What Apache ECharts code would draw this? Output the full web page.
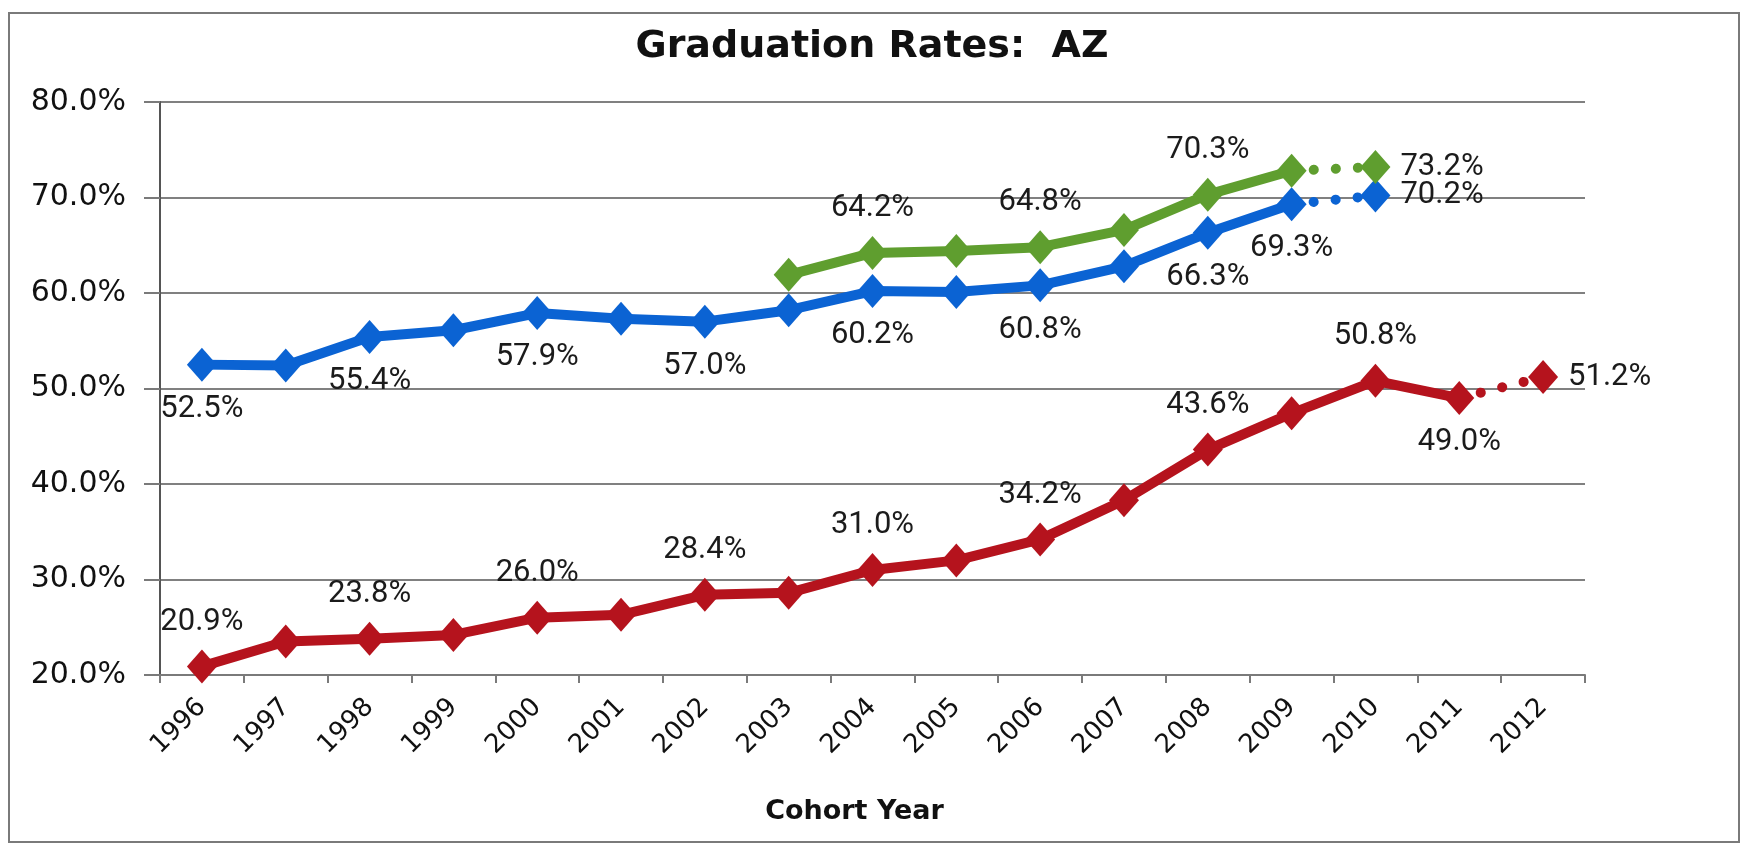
<!DOCTYPE html>
<html>
<head>
<meta charset="utf-8">
<title>Graduation Rates: AZ</title>
<script src="https://cdn.jsdelivr.net/npm/echarts@6/dist/echarts.min.js"></script>
<style>
  html,
  body {
    margin: 0;
    padding: 0;
    background: #ffffff;
  }
  #chart {
    width: 1744px;
    height: 845px;
  }
</style>
</head>
<body>
<div id="chart"></div>
<script>
const years = ["1996", "1997", "1998", "1999", "2000", "2001", "2002", "2003", "2004",
  "2005", "2006", "2007", "2008", "2009", "2010", "2011", "2012"];

// values in percent, "-" where the line has no point
const blueRates = [52.5, 52.4, 55.4, 56.1, 57.9, 57.3, 57.0, 58.2, 60.2,
  60.1, 60.8, 62.8, 66.3, 69.3, 70.2, "-", "-"];
const greenRates = ["-", "-", "-", "-", "-", "-", "-", 61.9, 64.2,
  64.4, 64.8, 66.6, 70.3, 72.8, 73.2, "-", "-"];
const redRates = [20.9, 23.5, 23.8, 24.2, 26.0, 26.3, 28.4, 28.6, 31.0,
  32.0, 34.2, 38.3, 43.6, 47.4, 50.8, 49.0, 51.2];

// last point of the solid line, the next one is joined with dots
const blueLastSolid = 13;
const greenLastSolid = 13;
const redLastSolid = 15;

// which points carry a label, and where
const blueLabels = { 0: "bottom", 2: "bottom", 4: "bottom", 6: "bottom", 8: "bottom",
  10: "bottom", 12: "bottom", 13: "bottom", 14: "right" };
const greenLabels = { 8: "top", 10: "top", 12: "top", 14: "right" };
const redLabels = { 0: "top", 2: "top", 4: "top", 6: "top", 8: "top", 10: "top",
  12: "top", 14: "top", 15: "bottom", 16: "right" };

const labelFont = {
  fontFamily: "Roboto",
  fontSize: 31,
  color: "#1b1b1b",
};

function pointLabel(pos) {
  if (!pos) {
    return { show: false };
  }
  return {
    show: true,
    position: pos,
    distance: pos === "right" ? 10 : 12,
    formatter: function (p) {
      return Number(p.value).toFixed(1) + "%";
    },
    ...labelFont,
  };
}

function buildSeries(name, values, color, lastSolid, labels) {
  const solidData = values.map(function (v, i) {
    if (i > lastSolid || v === "-") {
      return "-";
    }
    return { value: v, label: pointLabel(labels[i]) };
  });
  const dottedData = values.map(function (v, i) {
    if (i === lastSolid) {
      return { value: v, symbol: "none" };
    }
    if (i === lastSolid + 1) {
      return { value: v, label: pointLabel(labels[i]) };
    }
    return "-";
  });
  const common = {
    type: "line",
    symbol: "diamond",
    symbolSize: [30, 34],
    showAllSymbol: true,
    itemStyle: { color: color },
    emphasis: { disabled: true },
    animation: false,
  };
  return [
    {
      ...common,
      name: name,
      data: solidData,
      lineStyle: { color: color, width: 10 },
    },
    {
      ...common,
      name: name + " (dotted)",
      data: dottedData,
      lineStyle: { color: color, width: 10, type: [0.1, 22], cap: "round" },
    },
  ];
}

var chart = echarts.init(document.getElementById("chart"));

const option = {
  backgroundColor: "#ffffff",
  animation: false,
  title: {
    text: "Graduation Rates:  AZ",
    left: "center",
    top: 23,
    textStyle: {
      fontFamily: "DejaVu Sans",
      fontWeight: "bold",
      fontSize: 38,
      color: "#111111",
    },
  },
  graphic: [
    {
      type: "rect",
      shape: { x: 9, y: 13, width: 1730, height: 829 },
      style: { fill: "none", stroke: "#7a7a7a", lineWidth: 2 },
      silent: true,
    },
  ],
  grid: {
    left: 160,
    right: 159,
    top: 102,
    bottom: 170,
  },
  xAxis: {
    type: "category",
    data: years,
    boundaryGap: true,
    name: "Cohort Year",
    nameLocation: "middle",
    nameGap: 123,
    nameTextStyle: {
      fontFamily: "DejaVu Sans",
      fontWeight: "bold",
      fontSize: 27,
      color: "#111111",
      padding: [0, 36, 0, 0],
    },
    axisLine: { lineStyle: { color: "#7a7a7a", width: 2 } },
    axisTick: { show: true, length: 8, lineStyle: { color: "#7a7a7a", width: 2 } },
    axisLabel: {
      rotate: 45,
      margin: 28,
      fontFamily: "DejaVu Sans",
      fontSize: 26,
      color: "#111111",
    },
    splitLine: { show: false },
  },
  yAxis: {
    type: "value",
    min: 20,
    max: 80,
    interval: 10,
    axisLine: { show: true, lineStyle: { color: "#555555", width: 2 } },
    axisTick: { show: true, length: 16, lineStyle: { color: "#7a7a7a", width: 2 } },
    axisLabel: {
      margin: 34,
      fontFamily: "DejaVu Sans",
      fontSize: 30,
      color: "#111111",
      formatter: function (v) {
        return v.toFixed(1) + "%";
      },
    },
    splitLine: { lineStyle: { color: "#808080", width: 2 } },
  },
  series: [
    ...buildSeries("Blue", blueRates, "#0b63d3", blueLastSolid, blueLabels),
    ...buildSeries("Green", greenRates, "#5f9e2f", greenLastSolid, greenLabels),
    ...buildSeries("Red", redRates, "#b5131d", redLastSolid, redLabels),
  ],
};

chart.setOption(option);
</script>
</body>
</html>
